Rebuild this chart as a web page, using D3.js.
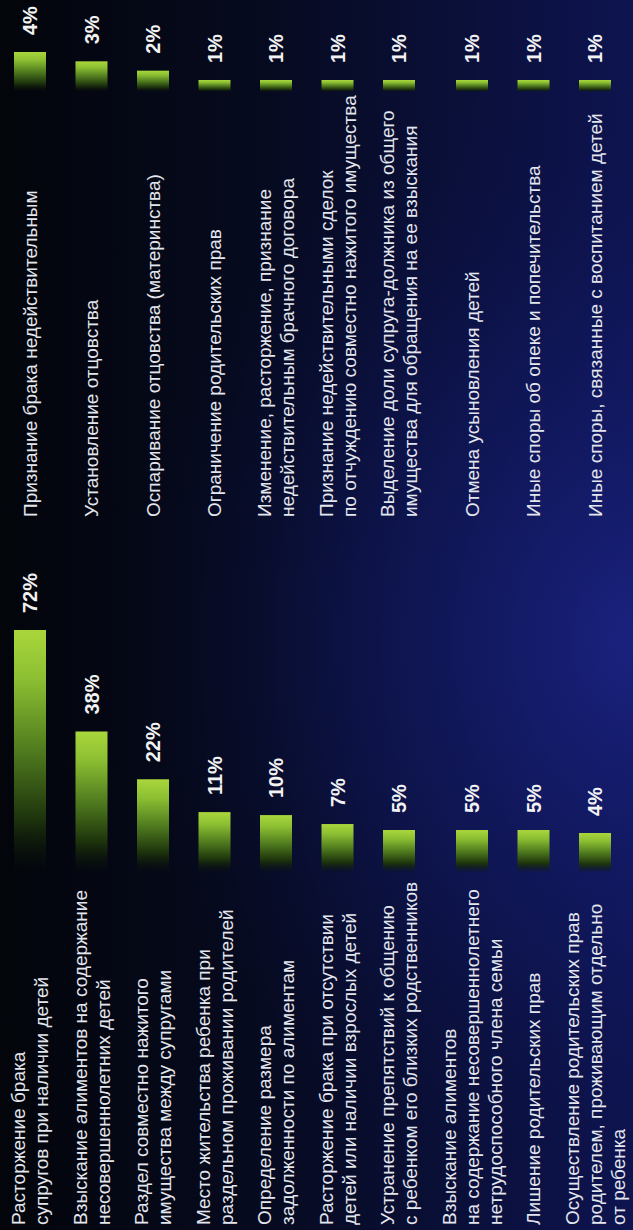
<!DOCTYPE html>
<html>
<head>
<meta charset="utf-8">
<script src="https://cdn.jsdelivr.net/npm/d3@7"></script>
<style>
  html, body { margin: 0; padding: 0; background: #04060d; }
  svg { display: block; }
</style>
</head>
<body>
<div id="chart"></div>
<script>
let width = 633
let height = 1230

// left column
let leftLabels = [
  ['Расторжение брака', 'супругов при наличии детей'],
  ['Взыскание алиментов на содержание', 'несовершеннолетних детей'],
  ['Раздел совместно нажитого', 'имущества между супругами'],
  ['Место жительства ребенка при', 'раздельном проживании родителей'],
  ['Определение размера', 'задолженности по алиментам'],
  ['Расторжение брака при отсутствии', 'детей или наличии взрослых детей'],
  ['Устранение препятствий к общению', 'с ребенком его близких родственников'],
  ['Взыскание алиментов', 'на содержание несовершеннолетнего', 'нетрудоспособного члена семьи'],
  ['Лишение родительских прав'],
  ['Осуществление родительских прав', 'родителем, проживающим отдельно', 'от ребенка']
]
let leftValues = [72, 38, 22, 11, 10, 7, 5, 5, 5, 4]

// right column
let rightLabels = [
  ['Признание брака недействительным'],
  ['Установление отцовства'],
  ['Оспаривание отцовства (материнства)'],
  ['Ограничение родительских прав'],
  ['Изменение, расторжение, признание', 'недействительным брачного договора'],
  ['Признание недействительными сделок', 'по отчуждению совместно нажитого имущества'],
  ['Выделение доли супруга-должника из общего', 'имущества для обращения на ее взыскания'],
  ['Отмена усыновления детей'],
  ['Иные споры об опеке и попечительства'],
  ['Иные споры, связанные с воспитанием детей']
]
let rightValues = [4, 3, 2, 1, 1, 1, 1, 1, 1, 1]

let lineHeight = 23
let rowGap = 15.5

let svg = d3
  .select('#chart')
  .append('svg')
  .attr('width', width)
  .attr('height', height)

let defs = svg.append('defs')

let bgLinear = defs.append('linearGradient')
  .attr('id', 'bg-linear')
  .attr('x1', 0).attr('y1', 0).attr('x2', 1).attr('y2', 0)
bgLinear.append('stop').attr('offset', '0%').attr('stop-color', '#03050b')
bgLinear.append('stop').attr('offset', '40%').attr('stop-color', '#060a1e')
bgLinear.append('stop').attr('offset', '100%').attr('stop-color', '#0e1450')

let bgGlow = defs.append('radialGradient')
  .attr('id', 'bg-glow')
  .attr('gradientUnits', 'userSpaceOnUse')
  .attr('cx', 640).attr('cy', 640).attr('r', 520)
  .attr('gradientTransform', 'translate(640,640) scale(1,1.1) translate(-640,-640)')
bgGlow.append('stop').attr('offset', '0%').attr('stop-color', '#1c2488').attr('stop-opacity', 0.85)
bgGlow.append('stop').attr('offset', '55%').attr('stop-color', '#121a66').attr('stop-opacity', 0.45)
bgGlow.append('stop').attr('offset', '100%').attr('stop-color', '#0a0f40').attr('stop-opacity', 0)

// bars go along x in the rotated group
let barGrad = defs.append('linearGradient')
  .attr('id', 'bar-grad')
  .attr('x1', 1).attr('y1', 0).attr('x2', 0).attr('y2', 0)
barGrad.append('stop').attr('offset', '0%').attr('stop-color', '#a9d63b')
barGrad.append('stop').attr('offset', '20%').attr('stop-color', '#8cbf32')
barGrad.append('stop').attr('offset', '50%').attr('stop-color', '#4f7a1e')
barGrad.append('stop').attr('offset', '78%').attr('stop-color', '#1d330c')
barGrad.append('stop').attr('offset', '100%').attr('stop-color', '#0a1406').attr('stop-opacity', 0)

svg.append('rect')
  .attr('width', width)
  .attr('height', height)
  .attr('fill', 'url(#bg-linear)')

svg.append('rect')
  .attr('width', width)
  .attr('height', height)
  .attr('fill', 'url(#bg-glow)')

// the whole chart is drawn sideways
let g = svg.append('g')
  .attr('transform', 'translate(0,' + height + ') rotate(-90)')

// row centres follow the number of lines in the left labels
let rowCenters = []
leftLabels.forEach((lines, i) => {
  if (i === 0) {
    rowCenters.push(30)
  } else {
    let prev = leftLabels[i - 1].length
    rowCenters.push(rowCenters[i - 1] + (prev + lines.length) * lineHeight / 2 + rowGap)
  }
})

let len = d3.scaleLinear()
  .domain([1, 4, 72])
  .range([12, 40, 243])

let barThickness = 32

function drawColumn(labels, values, labelX, baseX) {
  let col = g.append('g')

  col.selectAll('.label')
    .data(labels)
    .enter()
    .append('text')
    .attr('class', 'label')
    .attr('font-family', 'Liberation Sans, Arial, sans-serif')
    .attr('font-size', 19)
    .attr('fill', '#e4e6ee')
    .each(function(lines, i) {
      d3.select(this)
        .selectAll('tspan')
        .data(lines)
        .enter()
        .append('tspan')
        .attr('x', labelX)
        .attr('y', (d, j) => rowCenters[i] + (j - (lines.length - 1) / 2) * lineHeight)
        .attr('dy', '0.35em')
        .text(d => d)
    })

  col.selectAll('.bar')
    .data(values)
    .enter()
    .append('rect')
    .attr('class', 'bar')
    .attr('x', baseX)
    .attr('y', (d, i) => rowCenters[i] - barThickness / 2)
    .attr('width', d => len(d))
    .attr('height', barThickness)
    .attr('fill', 'url(#bar-grad)')

  col.selectAll('.pct')
    .data(values)
    .enter()
    .append('text')
    .attr('class', 'pct')
    .attr('x', d => baseX + len(d) + 17)
    .attr('y', (d, i) => rowCenters[i])
    .attr('dy', '0.36em')
    .attr('font-family', 'Liberation Sans, Arial, sans-serif')
    .attr('font-size', 20)
    .attr('font-weight', 'bold')
    .attr('fill', '#f2f2f2')
    .text(d => d + '%')
}

drawColumn(leftLabels, leftValues, 5, 357)
drawColumn(rightLabels, rightValues, 713, 1138)
</script>
</body>
</html>
